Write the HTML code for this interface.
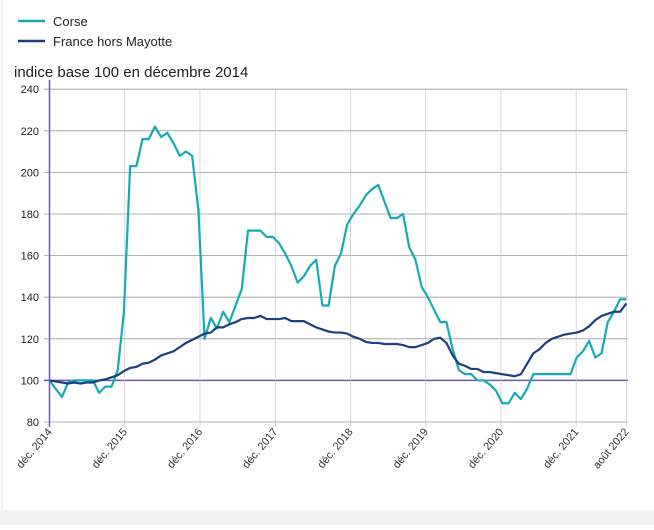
<!DOCTYPE html>
<html><head><meta charset="utf-8"><style>
body{margin:0;background:#fff;width:654px;height:525px;overflow:hidden;font-family:"Liberation Sans",sans-serif;}
</style></head><body>
<svg id="s" width="654" height="525" xmlns="http://www.w3.org/2000/svg" font-family="Liberation Sans, sans-serif">
<rect x="0" y="510" width="654" height="15" fill="#f2f2f2"/>
<line x1="2" y1="0" x2="2" y2="510" stroke="#e6e6e6"/>
<line x1="18" y1="21" x2="45" y2="21" stroke="#16a9b8" stroke-width="2.5"/>
<text x="53" y="26" font-size="13" fill="#222">Corse</text>
<line x1="18" y1="41" x2="45" y2="41" stroke="#1b3f7f" stroke-width="2.5"/>
<text x="53" y="46" font-size="13" fill="#222">France hors Mayotte</text>
<text x="14" y="77" font-size="15" fill="#222">indice base 100 en décembre 2014</text>
<g id="g"></g>
</svg>
<script>
const g=document.getElementById('g');let h='';
const X=m=>49.5+m*6.27, Y=v=>422-(v-80)*2.08;
for(let v=80;v<=240;v+=20){h+=`<line x1="44" x2="628" y1="${Y(v)}" y2="${Y(v)}" stroke="${v==100?'#6a5aa8':'#999'}" stroke-width="${v==100?1.5:0.8}"/>`;
h+=`<text x="39" y="${Y(v)+4}" font-size="11" text-anchor="end" fill="#222">${v}</text>`;}
const lab=['déc. 2014','déc. 2015','déc. 2016','déc. 2017','déc. 2018','déc. 2019','déc. 2020','déc. 2021','août 2022'];
[0,12,24,36,48,60,72,84,92].forEach((m,i)=>{const x=X(m);if(i>0)h+=`<line x1="${x}" x2="${x}" y1="89" y2="427" stroke="#ccc" stroke-width="0.8"/>`;
h+=`<text transform="translate(${x+3},432) rotate(-50)" font-size="11" text-anchor="end" fill="#333">${lab[i]}</text>`;});
h+=`<line x1="49.5" x2="49.5" y1="80" y2="427" stroke="#6a5aa8" stroke-width="1.5"/>`;
const c=[100,96,92,99,100,100,100,100,94,97,97,105,133,203,203,216,216,222,217,219,214,208,210,208,182,120,130,125,133,128,136,144,172,172,172,169,169,166,161,155,147,150,155,158,136,136,155,161,175,180,184,189,192,194,186,178,178,180,164,158,145,140,134,128,128,115,105,103,103,100,100,98,95,89,89,94,91,96,103,103,103,103,103,103,103,111,114,119,111,113,128,133,139,139];
const f=[100,99.5,99,98.5,99,98.5,99,99,100,100.5,101.5,102.5,104.5,106,106.5,108,108.5,110,112,113,114,116,118,119.5,121,122.5,123,125.5,125.5,127,128,129.5,130,130,131,129.5,129.5,129.5,130,128.5,128.5,128.5,127,125.5,124.5,123.5,123,123,122.5,121,120,118.5,118,118,117.5,117.5,117.5,117,116,116,117,118,120,120.5,118,112,108,107,105.5,105.5,104,104,103.5,103,102.5,102,103,108,113,115,118,120,121,122,122.5,123,124,126,129,131,132,133,133,137];
const pl=(a,col,off)=>`<polyline fill="none" stroke="${col}" stroke-width="2.2" stroke-linejoin="round" points="${a.map((v,i)=>X(i*92/(a.length-1))+','+Y(v)).join(' ')}"/>`;
h+=pl(c,'#16a9b8')+pl(f,'#1b3f7f');
g.innerHTML=h;
</script>
</body></html>
